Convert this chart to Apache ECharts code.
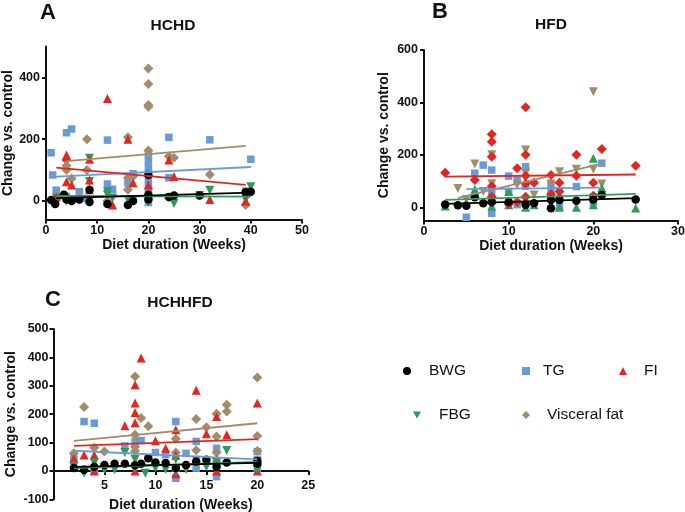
<!DOCTYPE html>
<html><head><meta charset="utf-8">
<script src="https://cdn.jsdelivr.net/npm/echarts@6/dist/echarts.min.js"></script>
<style>html,body{margin:0;padding:0;background:#fff}#c{width:685px;height:512px}</style>
</head><body><div id="c"></div>
<script>
// ---------- Panel A: HCHD ----------
const A_BWG = [[1,3],[1.8,-10],[3.5,20],[4,5],[5,0],[6.5,5],[8.5,36],[8.5,-3],[12,-10],[16,-13],[17,0],[20,84],[20,20],[20,5],[24,13],[25,18],[30,18],[39,28],[40,30]];
const A_TG = [[1,156],[1.3,84],[2,35],[4,221],[5,233],[4,15],[6.5,30],[8,8],[12,197],[12,55],[13,38],[16,58],[17,88],[20,150],[20,130],[20,110],[20,90],[20,70],[20,50],[20,30],[20,10],[20,-5],[24,206],[24,75],[32,198],[39,32],[40,135]];
const A_FI = [[2,14],[4,143],[4,149],[4,62],[5,52],[8.5,135],[8.5,68],[8.5,36],[12,332],[13,-13],[16,200],[17,59],[20,52],[24,133],[25,79],[32,5],[39,0]];
const A_FBG = [[2,10],[4,0],[5,5],[6.5,2],[8.5,138],[8.5,63],[8.5,0],[12,30],[12,20],[13,10],[16,5],[17,2],[20,-3],[24,10],[25,-8],[30,18],[32,35],[39,5],[40,46]];
const A_VF = [[2,5],[4,133],[4,114],[4,100],[5,73],[6.5,10],[8,200],[8,100],[12,0],[16,206],[16,74],[16,36],[17,80],[20,429],[20,379],[20,311],[20,305],[20,163],[24,145],[25,140],[32,86],[39,-13]];
const A_TREND_BWG = [[2,9],[40,27]];
const A_TREND_TG = [[1,78],[40,110]];
const A_TREND_FI = [[2,108],[39,52]];
const A_TREND_FBG = [[2,16],[40,14]];
const A_TREND_VF = [[4,129],[39,178]];

// ---------- Panel B: HFD ----------
const B_BWG = [[2.5,11],[4,8],[5,6],[6,38],[7,15],[8,20],[10,20],[12,10],[13,15],[15,-4],[15,28],[16,28],[18,25],[20,30],[21,47],[25,30]];
const B_TG = [[5,-38],[6,130],[7,161],[8,142],[8,-23],[8,60],[10,119],[10,60],[11,104],[11,10],[12,155],[12,80],[15,88],[15,60],[16,2],[18,79],[20,20],[20,40],[21,168]];
const B_FI = [[2.5,132],[6,104],[8,279],[8,250],[8,193],[8,80],[8,40],[8,20],[10,13],[11,149],[11,20],[12,382],[12,200],[12,120],[12,90],[12,40],[13,94],[15,123],[15,50],[16,94],[16,60],[18,200],[18,120],[20,94],[20,44],[21,222],[25,158]];
const B_FBG = [[2.5,5],[6,69],[8,30],[8,5],[10,60],[10,10],[12,0],[12,30],[13,10],[15,10],[16,0],[16,50],[18,0],[20,187],[20,10],[21,75],[25,-3]];
const B_VF = [[4,72],[5,30],[6,165],[7,60],[8,200],[8,90],[8,20],[11,85],[12,219],[12,130],[13,47],[15,89],[16,136],[16,60],[18,145],[20,441],[20,145],[21,89]];
const B_TREND_BWG = [[2.5,13],[25,35]];
const B_TREND_TG = [[5,69],[21,75]];
const B_TREND_FI = [[2.5,117],[25,125]];
const B_TREND_FBG = [[2.5,28],[25,51]];
const B_TREND_VF = [[4,36],[21,167]];

// ---------- Panel C: HCHHFD ----------
const C_BWG = [[2,10],[3,4],[4,15],[5,21],[6,25],[7,25],[8,20],[8.6,25],[9.3,45],[10,30],[11,28],[12,10],[13,21],[14,33],[15,39],[16,15],[17,30],[20,25],[20,35]];
const C_TG = [[2,45],[3,174],[4,168],[4,0],[7,88],[8,104],[8.6,107],[10,65],[11,57],[12,174],[12,-26],[12,10],[13,62],[14,104],[14,10],[16,80],[16,30],[16,-20],[20,68],[20,39],[20,10]];
const C_FI = [[2,45],[3,56],[4,56],[4,0],[7,159],[8,304],[8,239],[8,206],[8,170],[8,0],[8.6,398],[10,106],[11,80],[12,145],[12,55],[12,-10],[14,284],[15,131],[16,192],[16,40],[16,0],[17,127],[20,239],[20,0]];
const C_FBG = [[2,15],[3,-8],[4,29],[5,5],[6,4],[7,65],[8,40],[8,10],[9,-8],[10,10],[11,5],[12,40],[12,0],[13,5],[14,38],[15,15],[16,30],[17,72],[20,33],[20,5]];
const C_VF = [[2,62],[3,225],[4,82],[5,68],[8,333],[8,127],[8,85],[8,70],[8.6,186],[9.3,157],[12,113],[12,65],[14,183],[14,73],[15,154],[16,201],[16,121],[16,65],[17,233],[17,209],[20,329],[20,123],[20,70]];
const C_TREND_BWG = [[2,14],[20,28]];
const C_TREND_TG = [[2,71],[20,41]];
const C_TREND_FI = [[2,88],[20,112]];
const C_TREND_FBG = [[2,10],[20,32]];
const C_TREND_VF = [[2,106],[20,168]];

// ---------- labels ----------
const SERIES_NAMES = ['BWG','TG','FI','FBG','Visceral fat'];
const PANEL_TITLES = ['HCHD','HFD','HCHHFD'];
const PANEL_LETTERS = ['A','B','C'];
const Y_NAME = 'Change vs. control';
const X_NAME = 'Diet duration (Weeks)';
const A_YTICKS = [0,200,400];
const B_YTICKS = [0,200,400,600];
const C_XTICKS = [5,10,15,20,25];

const COL = {BWG:'#000000', TG:'#6a9bd8', FI:'#e3261f', FBG:'#2e9a5b', VF:'#a38c6a'};
const FONT = '"Liberation Sans", Arial, sans-serif';
const INV_TRI = 'path://M0,0L10,0L5,9Z';

function sc(name, data, gi, symbol, color, size, rot){
  return {type:'scatter', name, data, xAxisIndex:gi, yAxisIndex:gi, symbol, symbolSize:size,
    symbolRotate: rot||0, itemStyle:{color, opacity:1}, emphasis:{disabled:true}, z:2, silent:true};
}
function tr(name, data, gi, color){
  return {type:'line', name, data, xAxisIndex:gi, yAxisIndex:gi, showSymbol:false, symbol:'none',
    lineStyle:{color, width:1.8}, itemStyle:{color}, z:3, silent:true};
}
const axisCommon = {
  axisLine:{show:true, onZero:false, lineStyle:{color:'#111', width:2}},
  axisTick:{show:true, inside:false, length:4, lineStyle:{color:'#111', width:2}},
  splitLine:{show:false},
  axisLabel:{color:'#111', fontWeight:'bold', fontSize:12.5, fontFamily:FONT},
  nameTextStyle:{color:'#111', fontWeight:'bold', fontSize:14, fontFamily:FONT},
  nameLocation:'middle'
};
function ax(extra){ return echarts.util.merge(echarts.util.clone(axisCommon), extra, true); }

// Panel C: y range -100..500 over 170.3px; x axis drawn at y = 0
const C_YMIN = -100, C_YMAX = 500, C_H = 170.3;
const C_X_OFFSET = -(0 - C_YMIN) / (C_YMAX - C_YMIN) * C_H;

const option = {
  animation:false,
  backgroundColor:'#fff',
  grid:[
    {left:46, top:46.5, width:256, height:173, outerBoundsMode:'none', containLabel:false},
    {left:424, top:50, width:254, height:170.4, outerBoundsMode:'none', containLabel:false},
    {left:53.5, top:329, width:254.8, height:C_H, outerBoundsMode:'none', containLabel:false}
  ],
  xAxis:[
    ax({gridIndex:0, type:'value', min:0, max:50, interval:10, name:X_NAME, nameGap:19, axisLabel:{margin:5}}),
    ax({gridIndex:1, type:'value', min:0, max:30, interval:10, name:X_NAME, nameGap:19, axisLabel:{margin:5}}),
    ax({gridIndex:2, type:'value', min:0, max:25, interval:5, name:X_NAME, nameGap:27, offset:C_X_OFFSET,
        axisLabel:{margin:8, customValues:C_XTICKS}, axisTick:{customValues:C_XTICKS}})
  ],
  yAxis:[
    ax({gridIndex:0, type:'value', min:-60, max:500, name:Y_NAME, nameGap:29,
        axisLabel:{margin:6, customValues:A_YTICKS}, axisTick:{customValues:A_YTICKS}}),
    ax({gridIndex:1, type:'value', min:-50, max:600, name:Y_NAME, nameGap:33,
        axisLabel:{margin:6, customValues:B_YTICKS}, axisTick:{customValues:B_YTICKS}}),
    ax({gridIndex:2, type:'value', min:C_YMIN, max:C_YMAX, interval:100, name:Y_NAME, nameGap:35,
        axisLabel:{margin:5}})
  ],
  legend: [
    {left:403, top:363, data:[{name:'BWG', icon:'circle', itemStyle:{color:COL.BWG}}], textPad:13},
    {left:522, top:363, data:[{name:'TG', icon:'rect', itemStyle:{color:COL.TG}}], textPad:8},
    {left:619, top:363, data:[{name:'FI', icon:'triangle', itemStyle:{color:COL.FI}}], textPad:12},
    {left:413, top:407, data:[{name:'FBG', icon:INV_TRI, itemStyle:{color:COL.FBG}}], textPad:13},
    {left:522, top:407, data:[{name:'Visceral fat', icon:'diamond', itemStyle:{color:COL.VF}}], textPad:12}
  ].map(l => ({left:l.left, top:l.top, data:l.data, orient:'horizontal', itemWidth:8, itemHeight:8,
      selectedMode:false, padding:0,
      textStyle:{fontSize:15.5, color:'#111', fontFamily:FONT, padding:[0,0,0,l.textPad]}})),
  graphic:[
    {type:'text', x:48, y:13, style:{text:PANEL_LETTERS[0], font:'bold 22px '+FONT, fill:'#111', align:'center', verticalAlign:'middle'}},
    {type:'text', x:173, y:26, style:{text:PANEL_TITLES[0], font:'bold 15.5px '+FONT, fill:'#111', align:'center', verticalAlign:'middle'}},
    {type:'text', x:440, y:12, style:{text:PANEL_LETTERS[1], font:'bold 22px '+FONT, fill:'#111', align:'center', verticalAlign:'middle'}},
    {type:'text', x:551, y:25, style:{text:PANEL_TITLES[1], font:'bold 15.5px '+FONT, fill:'#111', align:'center', verticalAlign:'middle'}},
    {type:'text', x:53, y:300, style:{text:PANEL_LETTERS[2], font:'bold 22px '+FONT, fill:'#111', align:'center', verticalAlign:'middle'}},
    {type:'text', x:180, y:303, style:{text:PANEL_TITLES[2], font:'bold 15.5px '+FONT, fill:'#111', align:'center', verticalAlign:'middle'}}
  ],
  series:[
    // Panel A
    sc('TG', A_TG, 0, 'rect', COL.TG, 7.5),
    sc('Visceral fat', A_VF, 0, 'diamond', COL.VF, 10),
    sc('FBG', A_FBG, 0, 'triangle', COL.FBG, 9, 180),
    sc('FI', A_FI, 0, 'triangle', COL.FI, 9),
    sc('BWG', A_BWG, 0, 'circle', COL.BWG, 8.5),
    tr('Visceral fat', A_TREND_VF, 0, COL.VF),
    tr('TG', A_TREND_TG, 0, COL.TG),
    tr('FI', A_TREND_FI, 0, COL.FI),
    tr('FBG', A_TREND_FBG, 0, COL.FBG),
    tr('BWG', A_TREND_BWG, 0, COL.BWG),
    // Panel B
    sc('TG', B_TG, 1, 'rect', COL.TG, 7.5),
    sc('Visceral fat', B_VF, 1, 'triangle', COL.VF, 9, 180),
    sc('FBG', B_FBG, 1, 'triangle', COL.FBG, 9),
    sc('FI', B_FI, 1, 'diamond', COL.FI, 10),
    sc('BWG', B_BWG, 1, 'circle', COL.BWG, 8.5),
    tr('Visceral fat', B_TREND_VF, 1, COL.VF),
    tr('TG', B_TREND_TG, 1, COL.TG),
    tr('FI', B_TREND_FI, 1, COL.FI),
    tr('FBG', B_TREND_FBG, 1, COL.FBG),
    tr('BWG', B_TREND_BWG, 1, COL.BWG),
    // Panel C
    sc('TG', C_TG, 2, 'rect', COL.TG, 7.5),
    sc('Visceral fat', C_VF, 2, 'diamond', COL.VF, 10),
    sc('FI', C_FI, 2, 'triangle', COL.FI, 9),
    sc('FBG', C_FBG, 2, 'triangle', COL.FBG, 9, 180),
    sc('BWG', C_BWG, 2, 'circle', COL.BWG, 8.5),
    tr('Visceral fat', C_TREND_VF, 2, COL.VF),
    tr('TG', C_TREND_TG, 2, COL.TG),
    tr('FI', C_TREND_FI, 2, COL.FI),
    tr('FBG', C_TREND_FBG, 2, COL.FBG),
    tr('BWG', C_TREND_BWG, 2, COL.BWG)
  ]
};
const chart = echarts.init(document.getElementById('c'));
chart.setOption(option);
</script>
</body></html>
